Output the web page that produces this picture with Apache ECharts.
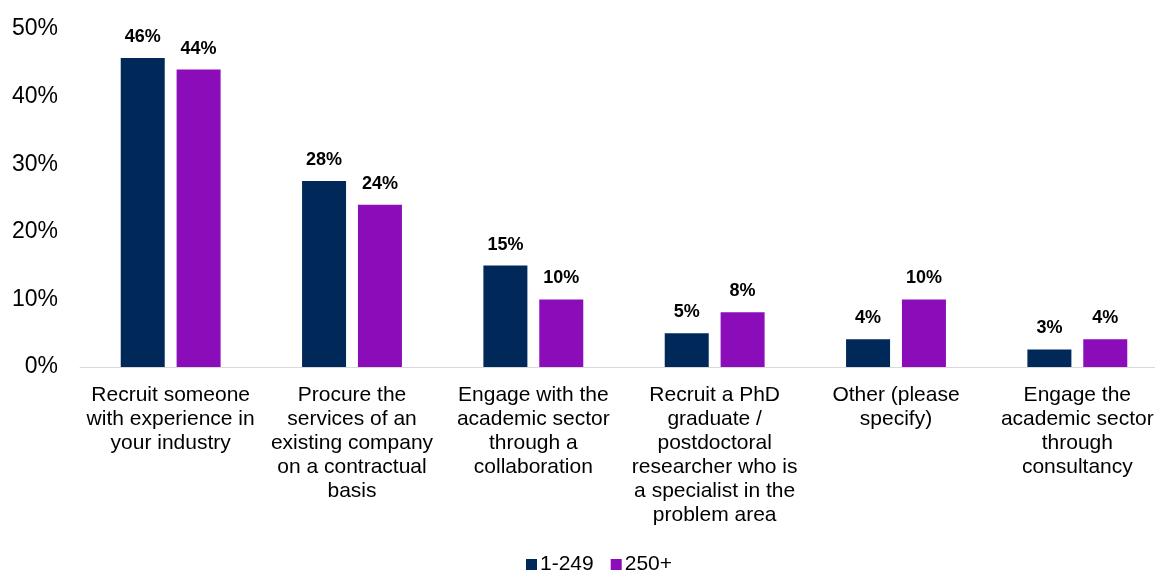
<!DOCTYPE html>
<html>
<head>
<meta charset="utf-8">
<script src="https://cdn.jsdelivr.net/npm/echarts@6/dist/echarts.min.js"></script>
<style>
  html, body { margin: 0; padding: 0; background: #fff; overflow: hidden; }
  #box { width: 1180px; height: 572px; }
</style>
</head>
<body>
<div id="box"></div>
<script>
var categories = [
    'Recruit someone\nwith experience in\nyour industry',
    'Procure the\nservices of an\nexisting company\non a contractual\nbasis',
    'Engage with the\nacademic sector\nthrough a\ncollaboration',
    'Recruit a PhD\ngraduate /\npostdoctoral\nresearcher who is\na specialist in the\nproblem area',
    'Other (please\nspecify)',
    'Engage the\nacademic sector\nthrough\nconsultancy'
];
var small = [45.7, 27.5, 15.0, 5.0, 4.1, 2.6];
var large = [44.0, 24.0, 10.0, 8.1, 10.0, 4.1];
var yTicks = [0, 10, 20, 30, 40, 50];

var dom = document.getElementById('box');
var myChart = echarts.init(dom);

var FONT = 'Liberation Sans, Arial, sans-serif';

var labelStyle = {
    show: true,
    position: 'top',
    distance: 12,
    fontFamily: FONT,
    fontSize: 18,
    fontWeight: 'bold',
    color: '#000',
    formatter: function (p) { return Math.round(p.value) + '%'; }
};

var option = {
    animation: false,
    legend: {
        top: 549,
        left: 521,
        itemWidth: 11,
        itemHeight: 11,
        itemGap: 17,
        icon: 'rect',
        textStyle: { fontFamily: FONT, fontSize: 21, color: '#000', padding: [0, 0, 0, -2] },
        data: ['1-249', '250+']
    },
    grid: { left: 80, top: 29, width: 1088, height: 338, containLabel: false },
    xAxis: {
        type: 'category',
        data: categories,
        axisLine: { lineStyle: { color: '#d9d9d9', width: 1 } },
        axisTick: { show: false },
        axisLabel: {
            interval: 0,
            margin: 16,
            lineHeight: 24,
            fontFamily: FONT,
            fontSize: 21,
            color: '#000'
        }
    },
    yAxis: {
        type: 'value',
        min: yTicks[0],
        max: yTicks[yTicks.length - 1],
        interval: 10,
        splitLine: { show: false },
        axisLine: { show: false },
        axisTick: { show: false },
        axisLabel: {
            margin: 22,
            fontFamily: FONT,
            fontSize: 23,
            color: '#000',
            formatter: '{value}%'
        }
    },
    series: [
        {
            name: '1-249',
            type: 'bar',
            data: small,
            barWidth: 44,
            barGap: '27%',
            itemStyle: { color: '#002859' },
            label: labelStyle
        },
        {
            name: '250+',
            type: 'bar',
            data: large,
            barWidth: 44,
            itemStyle: { color: '#8b0db9' },
            label: labelStyle
        }
    ]
};

myChart.setOption(option, true);
</script>
</body>
</html>
